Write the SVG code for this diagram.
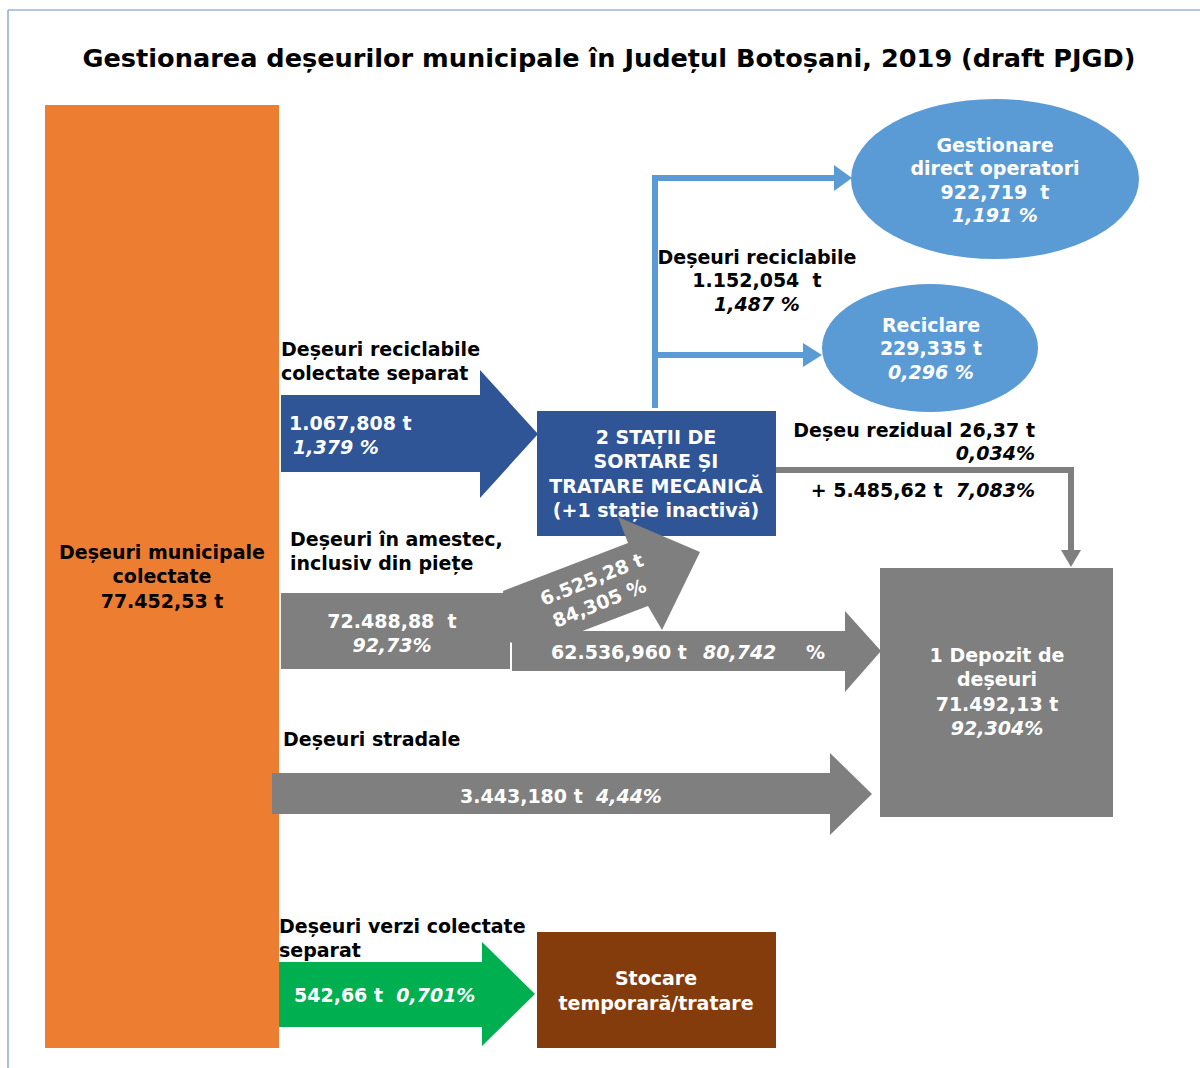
<svg xmlns="http://www.w3.org/2000/svg" width="1200" height="1068" viewBox="0 0 1200 1068">
<style>
text{font-family:"DejaVu Sans",Verdana,sans-serif;font-weight:bold;font-size:19px}
.w{fill:#ffffff}
.k{fill:#000000}
.m{text-anchor:middle}
.e{text-anchor:end}
.i{font-style:italic}
.blue{fill:#2F5597}
.lb{fill:#5B9BD5}
.gray{fill:#7F7F7F}
.ls{stroke:#5B9BD5;stroke-width:6;fill:none}
.gs{stroke:#7F7F7F;stroke-width:6;fill:none}
</style>
<rect x="0" y="0" width="1200" height="1068" fill="#ffffff"/>
<line x1="8" y1="10" x2="1200" y2="10" stroke="#B4C7E7" stroke-width="2"/>
<line x1="8" y1="10" x2="8" y2="1068" stroke="#8FAADC" stroke-width="1.5"/>
<text x="609" y="67" class="k m" style="font-size:25px" textLength="1053" lengthAdjust="spacingAndGlyphs">Gestionarea deșeurilor municipale în Județul Botoșani, 2019 (draft PJGD)</text>

<g id="node-municipale">
<rect x="45" y="105" width="234" height="943" fill="#ED7D31"/>
<text x="162" y="559" class="k m">Deșeuri municipale</text>
<text x="162" y="583" class="k m">colectate</text>
<text x="162" y="608" class="k m">77.452,53 t</text>
</g>

<g id="node-statii">
<rect x="537" y="411" width="239" height="125" class="blue"/>
<text x="656" y="444" class="w m">2 STAȚII DE</text>
<text x="656" y="468" class="w m">SORTARE ȘI</text>
<text x="656" y="493" class="w m">TRATARE MECANICĂ</text>
<text x="656" y="517" class="w m">(+1 stație inactivă)</text>
</g>

<g id="node-gestionare">
<ellipse cx="995" cy="179" rx="144" ry="80" class="lb"/>
<text x="995" y="152" class="w m">Gestionare</text>
<text x="995" y="175" class="w m">direct operatori</text>
<text x="995" y="199" class="w m" xml:space="preserve">922,719  t</text>
<text x="995" y="222" class="w m i">1,191 %</text>
</g>

<g id="node-reciclare">
<ellipse cx="930" cy="348" rx="108" ry="64" class="lb"/>
<text x="931" y="332" class="w m">Reciclare</text>
<text x="931" y="355" class="w m">229,335 t</text>
<text x="931" y="379" class="w m i">0,296 %</text>
</g>

<g id="node-depozit">
<rect x="880" y="568" width="233" height="249" class="gray"/>
<text x="997" y="662" class="w m">1 Depozit de</text>
<text x="997" y="686" class="w m">deșeuri</text>
<text x="997" y="711" class="w m">71.492,13 t</text>
<text x="997" y="735" class="w m i">92,304%</text>
</g>

<g id="node-stocare">
<rect x="537" y="932" width="239" height="116" fill="#843C0C"/>
<text x="656" y="985" class="w m">Stocare</text>
<text x="656" y="1010" class="w m">temporară/tratare</text>
</g>

<g id="connectors">
<polygon points="281,395 480,395 480,370 538,434 480,498 480,472 281,472" class="blue"/>
<text x="289" y="430" class="w">1.067,808 t</text>
<text x="293" y="454" class="w i">1,379 %</text>
<text x="281" y="356" class="k">Deșeuri reciclabile</text>
<text x="281" y="380" class="k">colectate separat</text>

<polyline points="655,408 655,178 836,178" class="ls"/>
<polygon points="834,165 852,178 834,191" class="lb"/>
<line x1="655" y1="355" x2="805" y2="355" class="ls"/>
<polygon points="803,343 822,355 803,367" class="lb"/>
<text x="757" y="264" class="k m">Deșeuri reciclabile</text>
<text x="757" y="287" class="k m" xml:space="preserve">1.152,054  t</text>
<text x="757" y="311" class="k m i">1,487 %</text>

<polyline points="776,470 1071,470 1071,552" class="gs"/>
<polygon points="1061,550 1081,550 1071,567" class="gray"/>
<text x="1035" y="437" class="k e">Deșeu rezidual 26,37 t</text>
<text x="1035" y="460" class="k e i">0,034%</text>
<text x="1035" y="497" class="k e" xml:space="preserve">+ 5.485,62 t  <tspan class="i">7,083%</tspan></text>

<rect x="281" y="593" width="229" height="76" class="gray"/>
<polygon points="503,591 628,543 618,517 700,552 662,630 648,606 530,651 505,640" class="gray"/>
<polygon points="512,631 845,631 845,611 881,651 845,692 845,671 512,671" class="gray"/>
<text x="392" y="628" class="w m" xml:space="preserve">72.488,88  t</text>
<text x="392" y="652" class="w m i">92,73%</text>
<text x="290" y="546" class="k">Deșeuri în amestec,</text>
<text x="290" y="570" class="k">inclusiv din piețe</text>
<g transform="translate(592,580) rotate(-22)">
<text x="0" y="6" class="w m">6.525,28 t</text>
<text x="-2" y="31" class="w m">84,305 %</text>
</g>
<text x="551" y="659" class="w">62.536,960 t</text>
<text x="703" y="659" class="w i">80,742</text>
<text x="806" y="659" class="w">%</text>

<polygon points="272,773 830,773 830,753 872,794 830,835 830,814 272,814" class="gray"/>
<text x="283" y="746" class="k">Deșeuri stradale</text>
<text x="561" y="803" class="w m" xml:space="preserve">3.443,180 t  <tspan class="i">4,44%</tspan></text>

<polygon points="279,962 482,962 482,942 535,994 482,1046 482,1027 279,1027" fill="#00B050"/>
<text x="279" y="933" class="k">Deșeuri verzi colectate</text>
<text x="279" y="957" class="k">separat</text>
<text x="294" y="1002" class="w" xml:space="preserve">542,66 t  <tspan class="i">0,701%</tspan></text>
</g>
</svg>
